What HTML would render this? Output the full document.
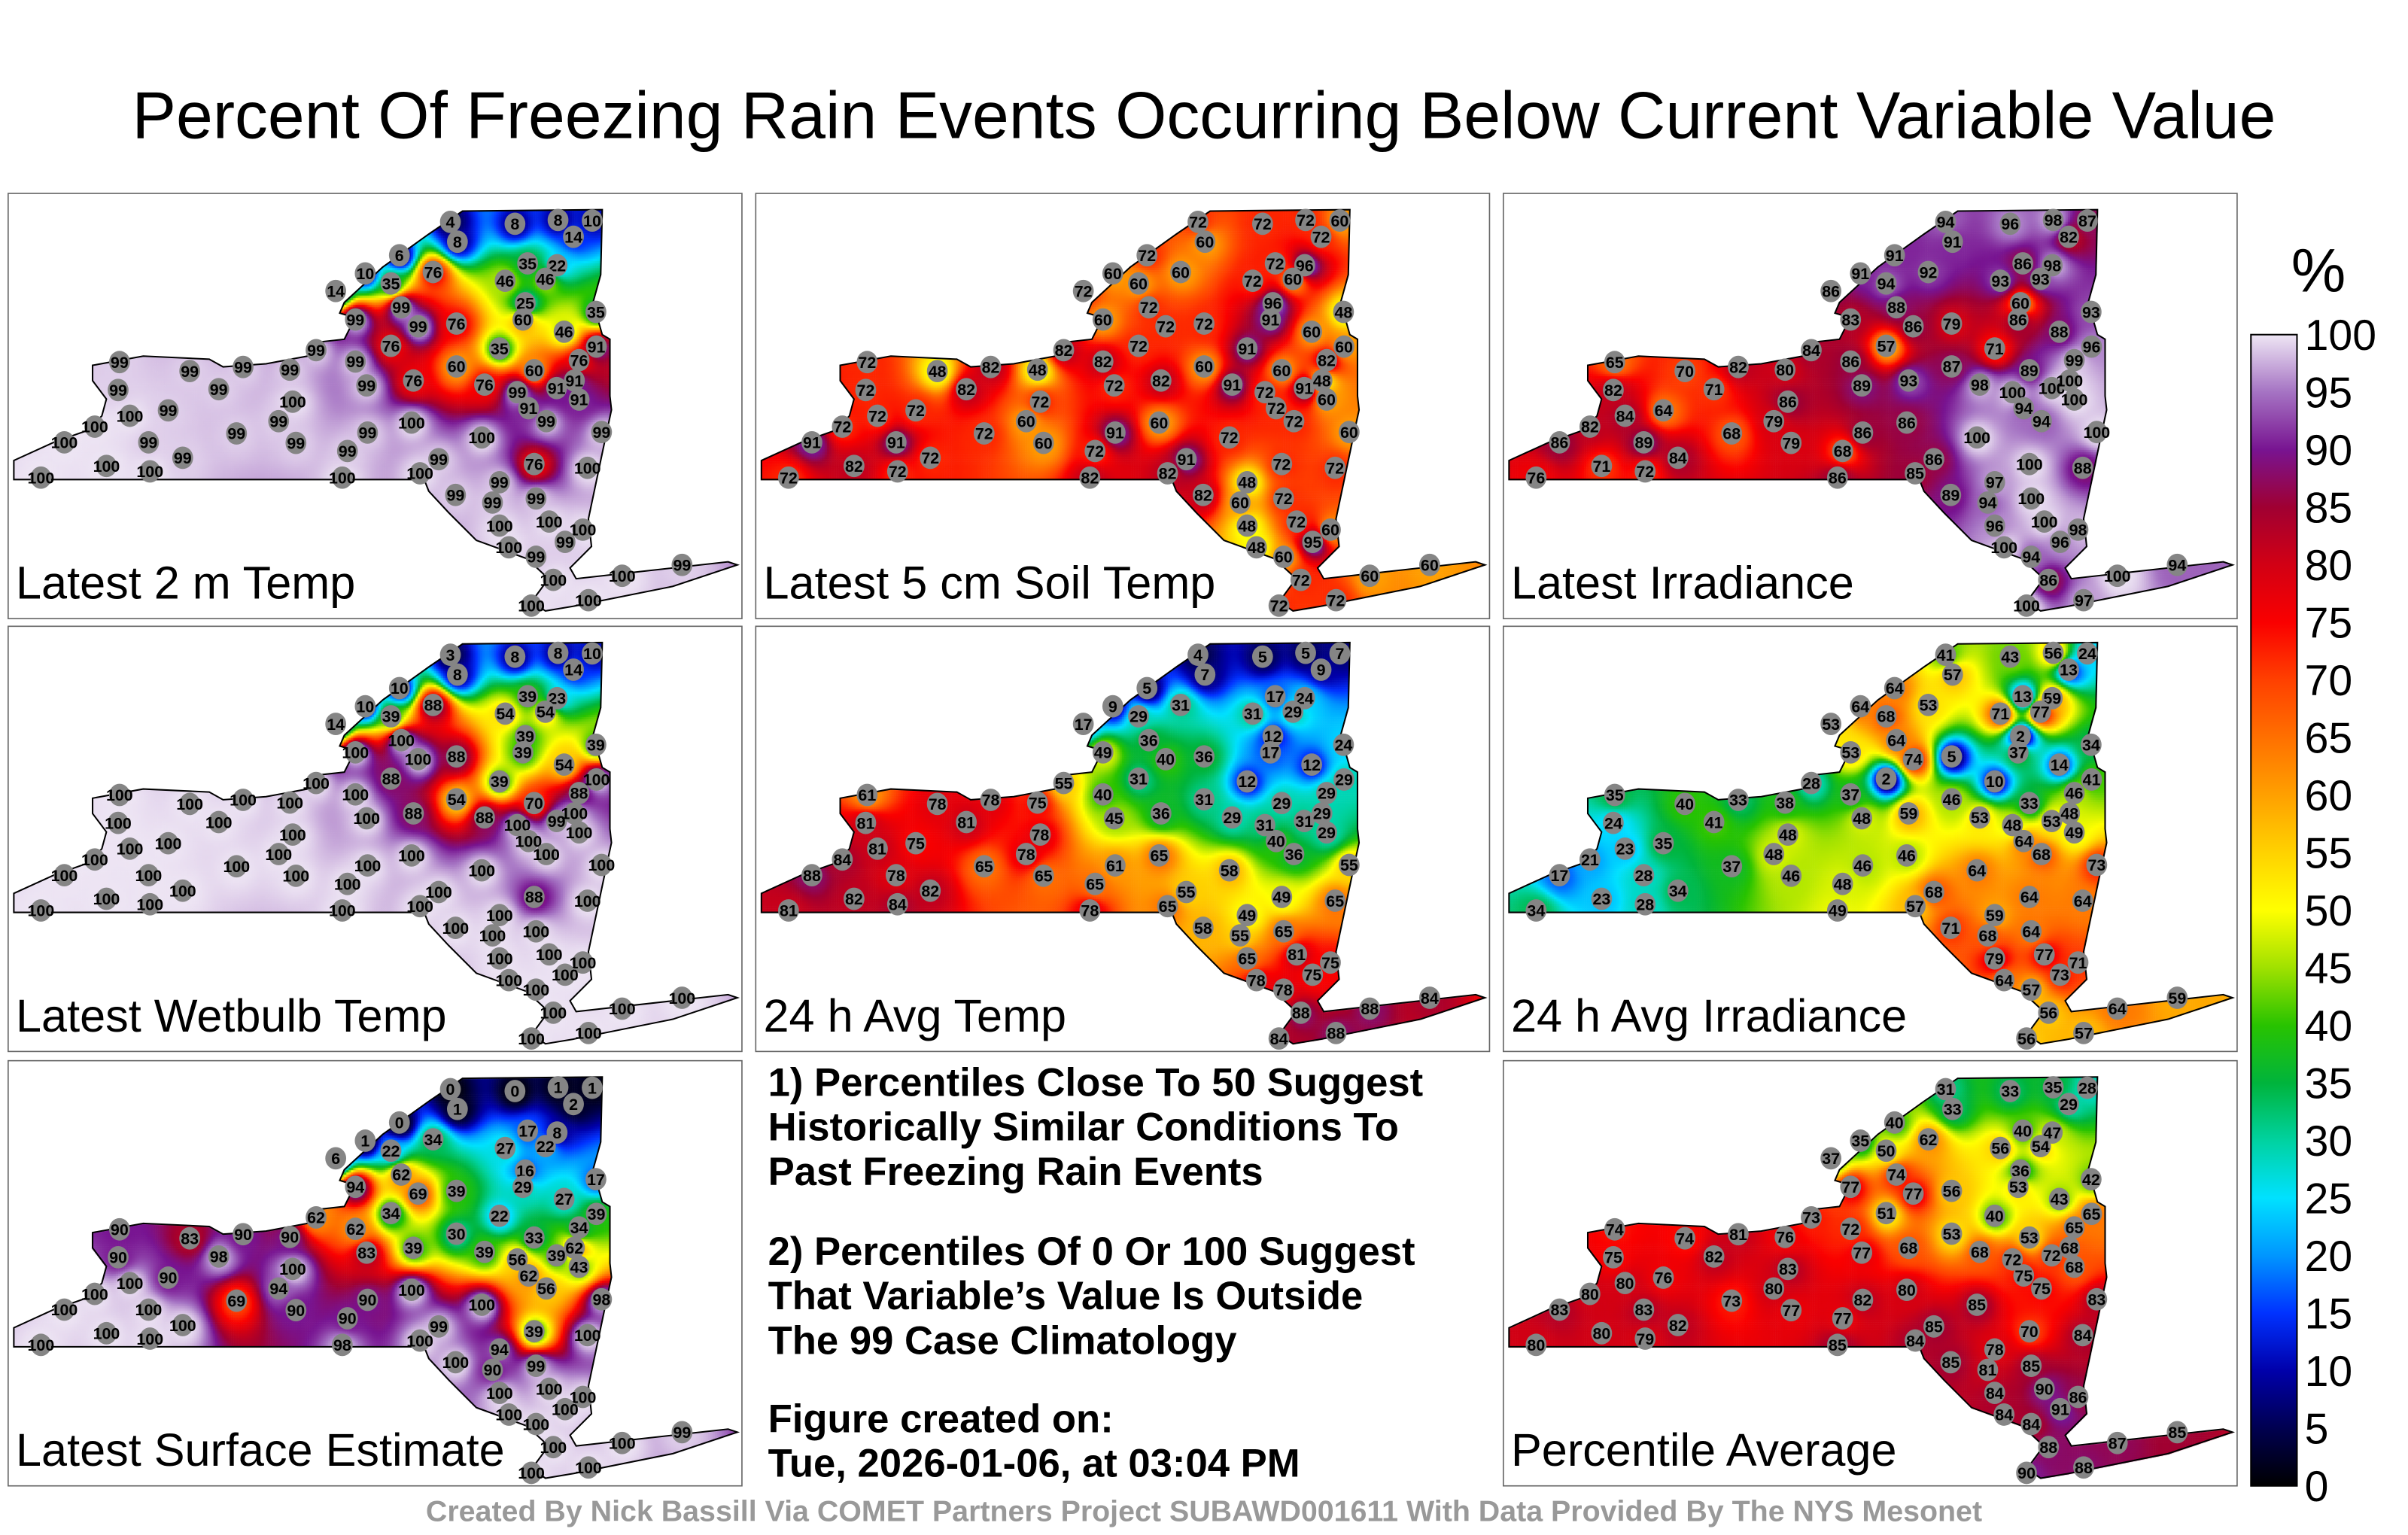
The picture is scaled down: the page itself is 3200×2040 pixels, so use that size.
<!DOCTYPE html>
<html><head><meta charset="utf-8">
<style>
html,body{margin:0;padding:0;background:#fff;}
#wrap{position:relative;width:3200px;height:2040px;overflow:hidden;}
canvas,svg{position:absolute;left:0;top:0;}
text{font-family:"Liberation Sans",sans-serif;}
</style></head>
<body>
<div id="wrap">
<canvas id="cv" width="3200" height="2040"></canvas>
<svg id="sv" width="3200" height="2040" viewBox="0 0 1568 1000">
<defs>
<linearGradient id="cbg" x1="0" y1="1" x2="0" y2="0"></linearGradient>
</defs>
<text x="784" y="90" text-anchor="middle" font-size="43" fill="#000">Percent Of Freezing Rain Events Occurring Below Current Variable Value</text>
<g id="panels"></g>
<g font-weight="bold" font-size="25.8" fill="#000">
<text x="500" y="714">1) Percentiles Close To 50 Suggest</text>
<text x="500" y="743">Historically Similar Conditions To</text>
<text x="500" y="772">Past Freezing Rain Events</text>
<text x="500" y="824">2) Percentiles Of 0 Or 100 Suggest</text>
<text x="500" y="853">That Variable’s Value Is Outside</text>
<text x="500" y="882">The 99 Case Climatology</text>
<text x="500" y="933">Figure created on:</text>
<text x="500" y="962">Tue, 2026-01-06, at 03:04 PM</text>
</g>
<rect x="1466" y="218" width="30" height="750" fill="url(#cbg)" stroke="#000" stroke-width="1"/>
<text x="1510" y="190" text-anchor="middle" font-size="40">%</text>
<g id="cbticks" font-size="28"></g>
<text x="784" y="991" text-anchor="middle" font-size="19.3" font-weight="bold" fill="#999">Created By Nick Bassill Via COMET Partners Project SUBAWD001611 With Data Provided By The NYS Mesonet</text>
</svg>
</div>
<script>
const cbTicks=[0,5,10,15,20,25,30,35,40,45,50,55,60,65,70,75,80,85,90,95,100];
const panelTitles=["Latest 2 m Temp","Latest 5 cm Soil Temp","Latest Irradiance","Latest Wetbulb Temp","24 h Avg Temp","24 h Avg Irradiance","Latest Surface Estimate","","Percentile Average"];
const stationGrid=[[945,105],[960,178],[1083,112],[1175,98],[1248,100],[1208,160],[836,228],[763,295],[700,360],[818,332],[908,290],[1110,258],[1173,265],[1062,322],[1148,315],[1105,405],[1100,465],[1256,437],[1188,510],[840,420],[742,465],[876,490],[958,480],[1050,572],[818,562],[658,578],[958,638],[1124,652],[1257,565],[1220,615],[866,690],[1018,705],[1088,733],[1172,718],[1220,760],[1112,792],[238,622],[388,655],[502,640],[602,650],[742,620],[235,725],[450,722],[766,708],[608,768],[260,820],[185,860],[120,918],[70,1048],[210,1005],[303,1025],[300,918],[373,975],[488,885],[615,920],[725,950],[768,882],[714,1048],[862,845],[1012,900],[1150,840],[1268,880],[1124,998],[1238,1012],[956,1112],[1050,1225],[1156,1210],[1228,1240],[1128,1340],[1070,1305],[1165,1425],[1312,1410],[1440,1370],[1240,1500],[1118,1520],[880,1032],[1050,1065],[1128,1125],[1190,1285],[578,840],[342,800],[1210,690],[920,980],[1035,1140]];
const v2mTemp=[4,8,8,8,10,14,6,10,14,35,76,35,22,46,46,25,60,35,46,99,99,99,76,35,76,99,60,60,91,76,76,76,99,91,91,91,99,99,99,99,99,99,99,99,100,100,100,100,100,100,100,99,99,99,99,99,99,100,100,100,99,99,76,100,99,100,100,100,99,100,100,100,99,100,100,100,99,99,99,99,99,91,99,99];
const vSoil=[72,60,72,72,60,72,72,60,72,60,60,72,96,72,60,96,91,48,60,72,60,72,72,91,72,82,60,60,60,82,82,91,72,91,60,72,72,48,82,48,82,72,82,72,72,72,72,91,72,82,72,91,72,72,60,72,91,82,60,72,72,60,72,72,82,48,72,60,60,48,72,60,60,72,72,82,48,72,95,60,72,48,91,60];
const vIrr=[94,91,96,98,87,82,91,91,86,94,92,86,98,93,93,60,86,93,88,88,83,86,79,71,57,84,87,89,96,99,93,98,100,100,100,94,65,70,82,80,86,82,71,89,86,84,82,86,76,71,72,89,84,68,79,68,86,86,86,100,94,100,100,88,89,96,100,98,94,100,86,100,94,97,100,85,97,100,96,79,64,100,86,94];
const vWet=[3,8,8,8,10,14,10,10,14,39,88,39,23,54,54,39,39,39,54,100,100,100,88,39,88,100,54,70,100,88,88,88,100,99,100,100,100,100,100,100,100,100,100,100,100,100,100,100,100,100,100,100,100,100,100,100,100,100,100,100,100,100,88,100,100,100,100,100,100,100,100,100,100,100,100,100,100,100,100,100,100,100,100,100];
const vAvgT=[4,7,5,5,7,9,5,9,17,29,31,17,24,31,29,12,17,24,12,36,49,40,36,12,31,55,31,29,29,29,36,29,31,31,29,40,61,78,78,75,40,81,81,45,78,81,84,88,81,82,84,78,82,65,65,65,61,78,65,58,36,55,49,65,58,65,81,75,78,78,88,88,84,88,84,65,49,65,75,78,75,29,55,55];
const vAvgIrr=[41,57,43,56,24,13,64,64,53,68,53,13,59,71,77,2,37,34,14,64,53,74,5,10,2,28,46,33,41,46,59,53,48,53,49,64,35,40,33,38,37,24,41,48,48,23,21,17,34,23,28,28,34,37,46,48,46,49,46,64,68,73,64,64,71,79,77,71,57,64,56,64,59,57,56,57,59,64,73,48,35,48,68,68];
const vSurf=[0,1,0,1,1,2,0,1,6,22,34,17,8,27,22,16,29,17,27,62,94,69,39,22,34,62,30,33,39,34,39,39,56,39,43,62,90,83,90,90,62,90,98,83,100,100,100,100,100,100,100,100,100,69,90,90,90,98,100,100,56,98,39,100,100,100,100,100,100,100,100,100,99,100,100,100,94,99,100,94,90,62,99,90];
const vAvg=[31,33,33,35,28,29,40,35,37,50,62,40,47,56,54,36,53,42,43,74,77,77,56,40,51,73,53,53,65,65,68,68,72,72,68,75,74,74,81,76,72,75,82,77,83,80,80,83,80,80,79,83,82,73,77,77,82,85,80,85,75,83,70,84,85,84,90,86,84,84,88,87,85,88,90,84,78,85,91,80,76,68,85,81];
const panelValues=[v2mTemp,vSoil,vIrr,vWet,vAvgT,vAvgIrr,vSurf,null,vAvg];

const cstops=[[0,[0,0,0]],[5,[0,0,80]],[10,[0,0,170]],[15,[0,50,255]],[20,[0,150,255]],[25,[0,225,255]],[30,[0,210,160]],[35,[0,180,60]],[40,[40,195,0]],[45,[160,225,0]],[50,[255,255,0]],[55,[255,210,0]],[60,[255,160,0]],[65,[255,112,0]],[70,[255,64,0]],[75,[250,0,0]],[80,[210,0,20]],[85,[160,0,50]],[90,[120,20,145]],[95,[165,115,195]],[100,[238,230,244]]];
function col(v){v=Math.max(0,Math.min(100,v));for(let i=1;i<cstops.length;i++){if(v<=cstops[i][0]){const a=cstops[i-1],b=cstops[i];const t=(v-a[0])/(b[0]-a[0]);return a[1].map((c,k)=>Math.round(c+(b[1][k]-c)*t));}}return cstops[cstops.length-1][1];}
const NS="http://www.w3.org/2000/svg";
const nyPath="M3.7,186.4 L3.7,174 L30,162 L50,155 L61,145 L64,134 L55,122 L55,112 L88,106 L131,108 L140,113 L168,111 L195,106 L201,97 L219,95 L226,81 L216,78 L219,71 L244,48 L274,26.5 L296,11.5 L387,10.6 L386,53 L381,71 L387,92 L392,95 L392,132 L393,141 L390,155 L378,212 L380,230 L366,244 L370,251 L469,240 L475,242 L433,256 L368,269 L350,272 L341,266 L352,251 L338,238 L305,226 L287,208 L274,194 L271,186.4 Z";
const colX=[5,492,979],rowY=[126,408,691],PW=478,PH=277;
function gx(x){return x*PW/1568;}
function gy(y){return y*PH/1568;}

const g=document.getElementById('cbg');
for(let v=0;v<=100;v+=2.5){const s=document.createElementNS(NS,'stop');s.setAttribute('offset',(v/100));s.setAttribute('stop-color','rgb('+col(v).join(',')+')');g.appendChild(s);}
const ct=document.getElementById('cbticks');
cbTicks.forEach(v=>{const t=document.createElementNS(NS,'text');


t.setAttribute('x',1501);t.setAttribute('y',968-v*7.5+10);t.textContent=v;ct.appendChild(t);});

const cv=document.getElementById('cv'),ctx=cv.getContext('2d');
const S=3200/1568;
const pg=document.getElementById('panels');
const st=stationGrid.map(p=>[gx(p[0]),gy(p[1])]);
for(let p=0;p<9;p++){
  const ox=colX[p%3],oy=rowY[Math.floor(p/3)];
  const vals=panelValues[p];
  if(vals){
    ctx.save();ctx.scale(S,S);ctx.translate(ox,oy);
    ctx.clip(new Path2D(nyPath));
    const step=1.5;
    for(let y=8;y<275;y+=step){for(let x=0;x<478;x+=step){
      let ws=0,vs=0;
      for(let i=0;i<st.length;i++){const dx=x-st[i][0],dy=y-st[i][1];const d2=dx*dx+dy*dy+12;const w=1/(d2*Math.sqrt(d2));ws+=w;vs+=w*vals[i];}
      ctx.fillStyle='rgb('+col(vs/ws).join(',')+')';ctx.fillRect(x,y,step+0.3,step+0.3);
    }}
    ctx.restore();
  }
  const gp=document.createElementNS(NS,'g');
  
  
  gp.setAttribute('transform','translate('+ox+','+oy+')');
  pg.appendChild(gp);
  if(!vals) continue;
  const fr=document.createElementNS(NS,'rect');
  
  
  fr.setAttribute('x',0);fr.setAttribute('y',0);fr.setAttribute('width',PW);fr.setAttribute('height',PH);fr.setAttribute('fill','none');fr.setAttribute('stroke','#666');fr.setAttribute('stroke-width','0.8');gp.appendChild(fr);
  const ol=document.createElementNS(NS,'path');
  
  
  ol.setAttribute('d',nyPath);ol.setAttribute('fill','none');ol.setAttribute('stroke','#000');ol.setAttribute('stroke-width','1');gp.appendChild(ol);
  st.forEach((s,i)=>{
    const c=document.createElementNS(NS,'ellipse');
    
    
    c.setAttribute('cx',s[0]);c.setAttribute('cy',s[1]);c.setAttribute('rx',6.8);c.setAttribute('ry',7.3);c.setAttribute('fill','#858585');gp.appendChild(c);
    const t=document.createElementNS(NS,'text');
    
    
    t.setAttribute('x',s[0]);t.setAttribute('y',s[1]+3.8);t.setAttribute('text-anchor','middle');t.setAttribute('font-size','10.5');t.setAttribute('font-weight','bold');t.textContent=vals[i];gp.appendChild(t);
  });
  const lb=document.createElementNS(NS,'text');
  
  
  lb.setAttribute('x',5);lb.setAttribute('y',264);lb.setAttribute('font-size','30');lb.textContent=panelTitles[p];gp.appendChild(lb);
}
</script>
</body></html>
